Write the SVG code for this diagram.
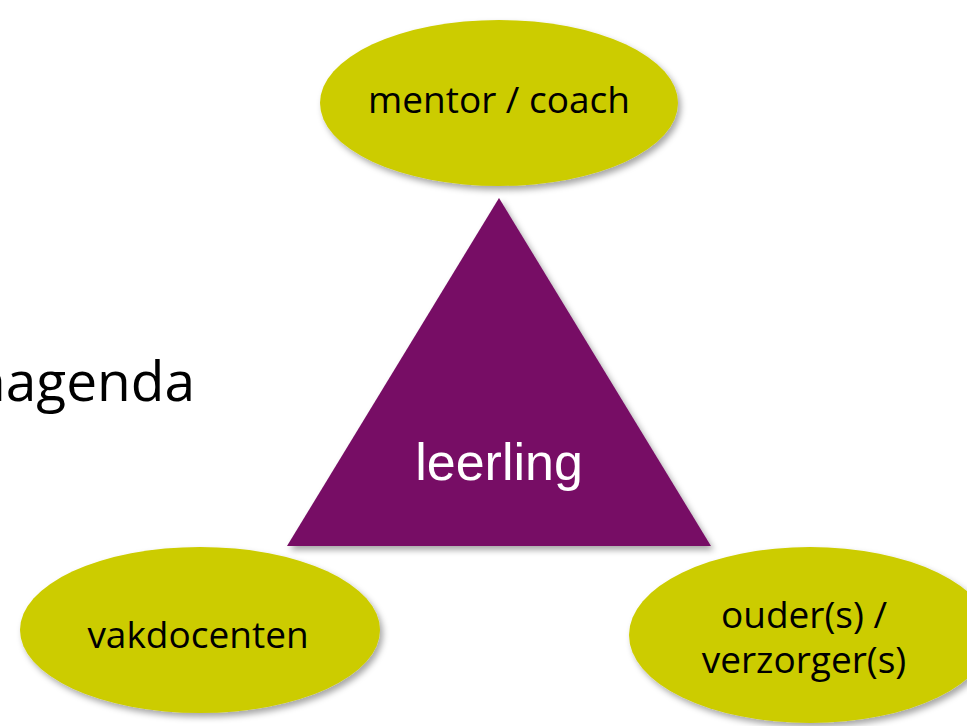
<svg xmlns="http://www.w3.org/2000/svg" width="967" height="726" viewBox="0 0 967 726">
<defs>
<filter id="sh" x="-20%" y="-20%" width="140%" height="140%">
<feDropShadow dx="3" dy="4" stdDeviation="3" flood-color="#000" flood-opacity="0.35"/>
</filter>
<style>
.ell{fill:#CCCC00;filter:url(#sh);}
.lbl{font-family:"Open Sans","Noto Sans",sans-serif;font-size:37px;fill:#000;text-anchor:middle;}
.tri{fill:#770F65;filter:url(#sh);}
.tl{font-family:"Liberation Sans",Arial,sans-serif;font-size:52px;fill:#fff;text-anchor:middle;}
.side{font-family:"Open Sans","Noto Sans",sans-serif;font-size:55px;fill:#000;text-anchor:end;}
</style>
</defs>
<rect width="967" height="726" fill="#fff"/>
<text class="side" x="195" y="401">nagenda</text>
<g id="connectors"></g>
<g id="leerling">
<polygon class="tri" points="499,198 711,546 287,546"/>
<text class="tl" x="499" y="480">leerling</text>
</g>
<g id="mentor">
<ellipse class="ell" cx="499" cy="103" rx="179" ry="83"/>
<text class="lbl" x="499" y="113">mentor / coach</text>
</g>
<g id="vakdocenten">
<ellipse class="ell" cx="200" cy="630" rx="180" ry="83"/>
<text class="lbl" x="198" y="648">vakdocenten</text>
</g>
<g id="ouders">
<ellipse class="ell" cx="810" cy="635" rx="181" ry="88"/>
<text class="lbl" x="804" y="628">ouder(s) /</text>
<text class="lbl" x="804" y="673">verzorger(s)</text>
</g>
</svg>
